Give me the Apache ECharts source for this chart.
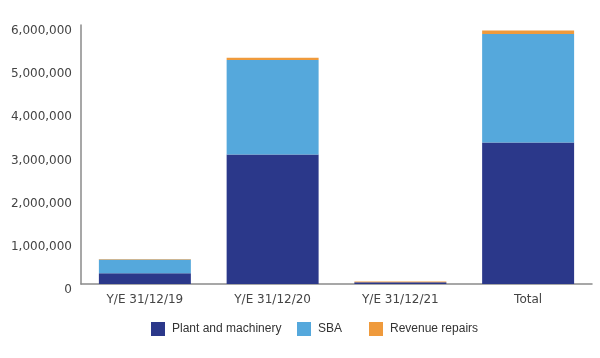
<!DOCTYPE html>
<html><head><meta charset="utf-8">
<script src="https://cdn.jsdelivr.net/npm/echarts@6/dist/echarts.min.js"></script>
<style>html,body{margin:0;padding:0;background:#fff}#c{width:600px;height:358px}</style>
</head><body><div id="c"></div>
<script>
const categories = ['Y/E 31/12/19', 'Y/E 31/12/20', 'Y/E 31/12/21', 'Total'];
const plantMachinery = [250000, 3000000, 40000, 3280000];
const sba = [320000, 2190000, 0, 2510000];
const revenueRepairs = [10000, 50000, 20000, 80000];
const seriesNames = ['Plant and machinery', 'SBA', 'Revenue repairs'];
const colors = ['#2b388a', '#55a8dc', '#ef9a3c'];

const chart = echarts.init(document.getElementById('c'), null, {renderer: 'canvas'});
const axisFont = 'DejaVu Sans';
const legendFont = 'Liberation Sans';
const legendLefts = [151, 297, 369];
chart.setOption({
  animation: false,
  color: colors,
  grid: {left: 81, right: 8, top: 25, bottom: 74},
  legend: seriesNames.map((n, i) => ({
    top: 322, left: legendLefts[i], itemWidth: 14, itemHeight: 14, padding: 0,
    icon: 'rect',
    textStyle: {color: '#333', fontSize: 12, fontFamily: legendFont, padding: [0, 0, 0, 2]},
    data: [n]
  })),
  xAxis: {
    type: 'category', data: categories,
    axisLine: {lineStyle: {color: '#8a8a8a', width: 1.5}},
    axisTick: {show: false},
    axisLabel: {color: '#444', fontSize: 12, fontFamily: axisFont, margin: 10}
  },
  yAxis: {
    type: 'value', min: 0, max: 6000000, interval: 1000000,
    axisLine: {show: true, lineStyle: {color: '#8a8a8a', width: 1.5}},
    axisTick: {show: false},
    splitLine: {show: false},
    axisLabel: {color: '#444', fontSize: 12, fontFamily: axisFont, margin: 9,
      verticalAlign: 'top', lineHeight: 12,
      formatter: v => v.toLocaleString('en-US')}
  },
  series: [
    {name: seriesNames[0], type: 'bar', stack: 'a', data: plantMachinery, barCategoryGap: '28%'},
    {name: seriesNames[1], type: 'bar', stack: 'a', data: sba},
    {name: seriesNames[2], type: 'bar', stack: 'a', data: revenueRepairs}
  ]
});
</script></body></html>
